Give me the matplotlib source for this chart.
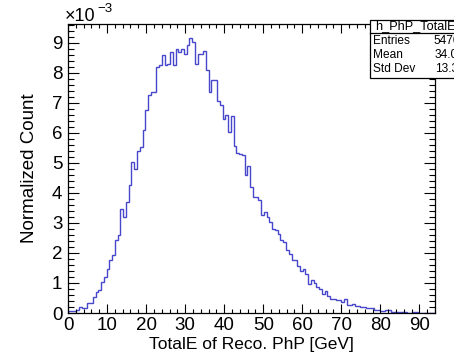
import matplotlib
matplotlib.use("Agg")
import matplotlib.pyplot as plt
from matplotlib.patches import Rectangle
from matplotlib.ticker import MultipleLocator

plt.rcParams['font.family'] = ['Liberation Sans', 'DejaVu Sans']

# Histogram: 133 bins from 0 to 94 GeV, values in units of 1e-3
x_min = 0.0
x_max = 94.0
n_bins = 133
counts_e3 = [
    0.05, 0.05, 0.05, 0.10, 0.20, 0.17, 0.17, 0.33, 0.33, 0.53,
    0.70, 0.76, 1.04, 1.20, 1.48, 1.78, 1.92, 2.42, 2.61, 3.48,
    3.20, 3.70, 4.26, 5.03, 4.81, 5.40, 5.54, 6.11, 6.78, 7.26,
    7.38, 7.38, 8.20, 8.26, 8.59, 8.26, 8.31, 8.70, 8.26, 8.81,
    8.70, 8.81, 8.64, 8.92, 9.18, 9.03, 8.31, 8.64, 8.64, 8.73,
    8.09, 7.37, 7.76, 7.76, 7.05, 6.94, 6.47, 6.60, 6.03, 6.55,
    5.58, 5.34, 5.30, 5.26, 4.59, 4.89, 4.20, 3.87, 3.87, 3.76,
    3.26, 3.35, 3.20, 3.03, 2.81, 2.76, 2.64, 2.42, 2.37, 2.09,
    1.98, 1.76, 1.76, 1.56, 1.40, 1.45, 1.29, 0.98, 1.11, 1.00,
    0.87, 0.81, 0.64, 0.72, 0.56, 0.48, 0.48, 0.42, 0.42, 0.37,
    0.45, 0.26, 0.26, 0.29, 0.24, 0.24, 0.20, 0.20, 0.15, 0.17,
    0.17, 0.11, 0.11, 0.08, 0.08, 0.11, 0.11, 0.04, 0.03, 0.03,
    0.03, 0.03, 0.03, 0.00, 0.00, 0.04, 0.04, 0.01, 0.01, 0.01,
    0.01, 0.01, 0.01,
]
x_ticks = [0, 10, 20, 30, 40, 50, 60, 70, 80, 90]
y_ticks = [0, 1, 2, 3, 4, 5, 6, 7, 8, 9]

stats_title = "h_PhP_TotalE"
stats_names = ["Entries", "Mean", "Std Dev"]
stats_values = ["5470", "34.08", "13.38"]

W, H = 454, 360
fig = plt.figure(figsize=(W / 100, H / 100), dpi=100)
ax = fig.add_axes([68 / W, 1 - 313 / H, (435 - 68) / W, (313 - 24) / H])

edges = [x_min + (x_max - x_min) * i / n_bins for i in range(n_bins + 1)]
ax.stairs(counts_e3, edges, color='#4747cc', linewidth=1.0)

ax.set_xlim(x_min, x_max)
ax.set_ylim(0, 9.63)
ax.set_xticks(x_ticks)
ax.set_yticks(y_ticks)
ax.xaxis.set_minor_locator(MultipleLocator(2))
ax.yaxis.set_minor_locator(MultipleLocator(0.2))
ax.tick_params(axis='both', which='both', direction='in', top=True, right=True,
               labelsize=13.5, color='black', width=0.8)
ax.tick_params(axis='x', which='major', length=6.5, pad=3)
ax.tick_params(axis='x', which='minor', length=3.2)
ax.tick_params(axis='y', which='major', length=8, pad=4)
ax.tick_params(axis='y', which='minor', length=4)
for s in ax.spines.values():
    s.set_linewidth(0.9)

# axis titles
fig.text(251 / W, 1 - 345 / H, "TotalE of Reco. PhP [GeV]", ha='center', va='center', fontsize=12.5)
fig.text(30 / W, 1 - 168 / H, "Normalized Count", ha='center', va='center', rotation=90, fontsize=13.5)

# exponent
fig.text(65 / W, 1 - 21 / H, "\u00d710", ha='left', va='baseline', fontsize=13)
fig.text(97 / W, 1 - 12 / H, "\u22123", ha='left', va='baseline', fontsize=9.5)

# stats box (extends past the right edge, as in the reference)
box = Rectangle((370 / W, 1 - 78 / H), (470 - 370) / W, (78 - 20) / H, transform=fig.transFigure,
                facecolor='white', edgecolor='black', linewidth=0.9, zorder=10, clip_on=False)
fig.patches.append(box)
fig.add_artist(plt.Line2D([370 / W, 1.0], [1 - 33 / H, 1 - 33 / H], transform=fig.transFigure,
                          color='black', linewidth=0.9, zorder=11))
fig.text(375 / W, 1 - 26.5 / H, stats_title, ha='left', va='center', fontsize=9.2, zorder=12)
row_y = [41, 55, 69]
val_x = [434, 435, 435]
for name, val, yy, vx in zip(stats_names, stats_values, row_y, val_x):
    fig.text(373 / W, 1 - yy / H, name, ha='left', va='center', fontsize=8.6, zorder=12)
    fig.text(vx / W, 1 - yy / H, val, ha='left', va='center', fontsize=8.6, zorder=12)

fig.savefig("out.png", dpi=100)
